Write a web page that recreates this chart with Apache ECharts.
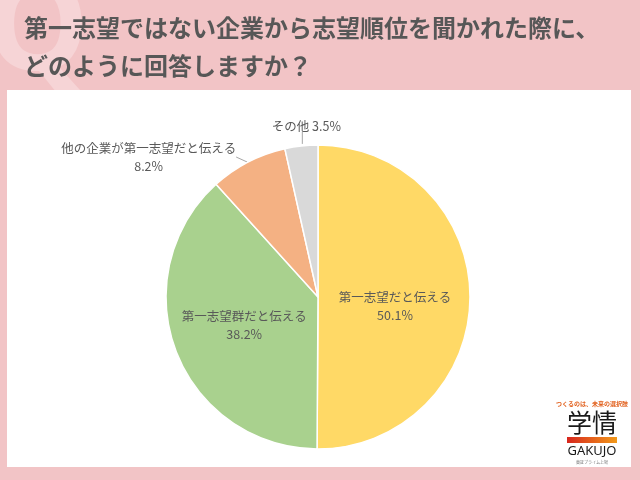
<!DOCTYPE html>
<html><head><meta charset="utf-8">
<script src="https://cdn.jsdelivr.net/npm/echarts@6/dist/echarts.min.js"></script>
<style>html,body{margin:0;padding:0;background:#f2c4c6;}#c{width:640px;height:480px;}</style>
</head><body><div id="c"></div>
<script>
const titleLines = ['第一志望ではない企業から志望順位を聞かれた際に、', 'どのように回答しますか？'];
const categories = ['第一志望だと伝える', '第一志望群だと伝える', '他の企業が第一志望だと伝える', 'その他'];
const values = [50.1, 38.2, 8.2, 3.5];
const colors = ['#ffd966', '#a9d18e', '#f4b183', '#d9d9d9'];
const labelPos = ['inside', 'inside', 'outside', 'outside'];

const FONT = '"Noto Sans CJK JP", "Noto Sans", sans-serif';
const chart = echarts.init(document.getElementById('c'), null, {renderer: 'canvas'});

const data = categories.map((n, i) => ({
  name: n, value: values[i],
  itemStyle: {color: colors[i]},
  label: {position: labelPos[i], offset: i === 0 ? [-2, 9] : [0, 0]}
}));

chart.setOption({
  backgroundColor: '#f2c4c6',
  animation: false,
  graphic: [
    {type: 'text', left: -14, top: -32, z: 0, style: {text: 'Q', font: 'bold 130px "Noto Sans", sans-serif', fill: '#f6d4d6'}},
    {type: 'rect', shape: {x: 7, y: 90, width: 624, height: 377}, style: {fill: '#ffffff'}, z: 1},
    {type: 'text', left: 24, top: 16, z: 2, style: {text: titleLines[0], font: 'bold 24px ' + FONT, fill: '#575757'}},
    {type: 'text', left: 24, top: 54, z: 2, style: {text: titleLines[1], font: 'bold 24px ' + FONT, fill: '#575757'}},
    {type: 'text', x: 592, y: 404, z: 2, style: {text: 'つくるのは、未来の選択肢', font: 'bold 6px ' + FONT, fill: '#e2611e', align: 'center', verticalAlign: 'middle'}},
    {type: 'text', x: 592, y: 422, z: 2, style: {text: '学情', font: '25px ' + FONT, fill: '#1a1a1a', align: 'center', verticalAlign: 'middle'}},
    {type: 'rect', z: 2, shape: {x: 567, y: 437, width: 50, height: 6}, style: {fill: new echarts.graphic.LinearGradient(0, 0, 1, 0, [{offset: 0, color: '#d7261e'}, {offset: 1, color: '#f29a1a'}])}},
    {type: 'text', x: 592, y: 451, z: 2, style: {text: 'GAKUJO', font: '13px "Noto Sans", sans-serif', fill: '#1a1a1a', align: 'center', verticalAlign: 'middle'}},
    {type: 'text', x: 592, y: 462, z: 2, style: {text: '東証プライム上場', font: '4px ' + FONT, fill: '#777', align: 'center', verticalAlign: 'middle'}}
  ],
  series: [{
    type: 'pie',
    center: [318, 297],
    radius: 152,
    startAngle: 90,
    clockwise: true,
    z: 5,
    itemStyle: {borderColor: '#ffffff', borderWidth: 1.5},
    label: {
      formatter: p => p.name + (p.dataIndex === 3 ? ' ' : '\n') + p.value.toFixed(1) + '%',
      color: '#595959', fontSize: 12.5, fontFamily: FONT, lineHeight: 18, align: 'center'
    },
    labelLine: {show: true, length: 10, length2: 0, lineStyle: {color: '#a6a6a6', width: 1}},
    labelLayout: function (p) {
      if (p.dataIndex === 3 && p.labelLinePoints) {
        const e = p.labelLinePoints[0];
        return {x: e[0] + 5, y: e[1] - 11, align: 'center', verticalAlign: 'bottom',
          labelLinePoints: [[e[0] + 1, e[1] - 2], [e[0] + 1, e[1] - 14]]};
      }
      if (p.dataIndex === 2 && p.labelLinePoints) {
        const e = p.labelLinePoints[0];
        const w = p.labelRect.width;
        return {x: e[0] - 12 - w / 2, y: e[1] - 5, align: 'center', verticalAlign: 'middle',
          labelLinePoints: [[e[0] - 1, e[1]], [e[0] - 12, e[1] - 5]]};
      }
      return {};
    },
    emphasis: {disabled: true},
    data: data
  }]
});
</script></body></html>
